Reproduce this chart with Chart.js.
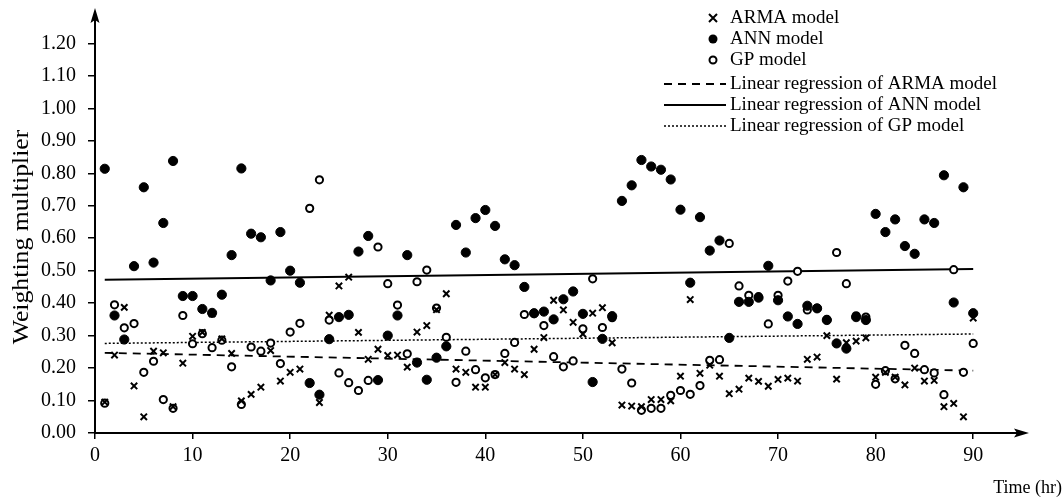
<!DOCTYPE html>
<html>
<head>
<meta charset="utf-8">
<script src="https://cdn.jsdelivr.net/npm/chart.js@4.4.1/dist/chart.umd.min.js"></script>
<style>
  html, body { margin: 0; padding: 0; background: #fff; }
  #wrap { width: 1064px; height: 501px; }
</style>
</head>
<body>
<div id="wrap"><canvas id="chart"></canvas></div>
<script>
// Weighting multiplier per hour for each model
const armaValues = [
  0.095, 0.240, 0.387, 0.145, 0.050, 0.252, 0.247, 0.081, 0.215, 0.298,
  0.310, 0.367, 0.290, 0.245, 0.099, 0.119, 0.141, 0.254, 0.160, 0.187,
  0.197, 0.155, 0.094, 0.363, 0.453, 0.480, 0.310, 0.227, 0.258, 0.239,
  0.240, 0.203, 0.311, 0.331, 0.380, 0.429, 0.197, 0.187, 0.141, 0.141,
  0.180, 0.217, 0.197, 0.180, 0.258, 0.294, 0.409, 0.379, 0.341, 0.305,
  0.369, 0.386, 0.278, 0.086, 0.083, 0.081, 0.103, 0.103, 0.099, 0.175,
  0.411, 0.184, 0.209, 0.175, 0.121, 0.135, 0.169, 0.159, 0.144, 0.165,
  0.169, 0.160, 0.227, 0.234, 0.300, 0.166, 0.278, 0.283, 0.293, 0.172,
  0.187, 0.172, 0.148, 0.200, 0.160, 0.162, 0.081, 0.091, 0.050, 0.354
];
const annValues = [
  0.814, 0.362, 0.288, 0.514, 0.757, 0.525, 0.647, 0.838, 0.422, 0.422,
  0.382, 0.370, 0.426, 0.548, 0.815, 0.614, 0.603, 0.470, 0.619, 0.500,
  0.463, 0.154, 0.118, 0.289, 0.357, 0.364, 0.559, 0.607, 0.163, 0.300,
  0.362, 0.548, 0.217, 0.164, 0.232, 0.267, 0.641, 0.556, 0.662, 0.687,
  0.638, 0.535, 0.517, 0.450, 0.369, 0.374, 0.350, 0.412, 0.436, 0.367,
  0.157, 0.290, 0.360, 0.715, 0.763, 0.841, 0.821, 0.811, 0.781, 0.688,
  0.463, 0.665, 0.562, 0.593, 0.293, 0.404, 0.404, 0.417, 0.515, 0.409,
  0.359, 0.336, 0.392, 0.384, 0.348, 0.276, 0.260, 0.357, 0.348, 0.675,
  0.619, 0.658, 0.576, 0.552, 0.658, 0.647, 0.794, 0.402, 0.757, 0.369
];
const gpValues = [
  0.092, 0.395, 0.324, 0.337, 0.187, 0.221, 0.103, 0.076, 0.362, 0.275,
  0.306, 0.263, 0.286, 0.204, 0.088, 0.265, 0.252, 0.277, 0.214, 0.311,
  0.338, 0.692, 0.780, 0.348, 0.185, 0.155, 0.131, 0.162, 0.573, 0.460,
  0.394, 0.244, 0.466, 0.502, 0.385, 0.295, 0.156, 0.252, 0.195, 0.170,
  0.180, 0.245, 0.279, 0.365, 0.368, 0.331, 0.235, 0.204, 0.222, 0.321,
  0.475, 0.325, 0.355, 0.197, 0.154, 0.070, 0.076, 0.076, 0.116, 0.131,
  0.119, 0.146, 0.224, 0.226, 0.584, 0.453, 0.424, 0.420, 0.336, 0.424,
  0.468, 0.498, 0.379, 0.384, 0.350, 0.556, 0.460, 0.361, 0.357, 0.150,
  0.192, 0.167, 0.270, 0.245, 0.195, 0.185, 0.118, 0.503, 0.187, 0.276
];

// Fitted trend lines: [value at first hour, value at last hour]
const trendHours = [1, 90];
const armaTrend = [0.247, 0.192];
const annTrend = [0.472, 0.505];
const gpTrend = [0.276, 0.305];

const xTicks = [0, 10, 20, 30, 40, 50, 60, 70, 80, 90];
const yTicks = [0, 0.1, 0.2, 0.3, 0.4, 0.5, 0.6, 0.7, 0.8, 0.9, 1.0, 1.1, 1.2];

const legendLabels = [
  'ARMA model', 'ANN model', 'GP model',
  'Linear regression of ARMA model', 'Linear regression of ANN model', 'Linear regression of GP model'
];

const FONT = '"Liberation Serif", "Times New Roman", serif';

const toPoints = vals => vals.map((v, i) => ({ x: i + 1, y: v }));
const trendPoints = vals => trendHours.map((h, i) => ({ x: h, y: vals[i] }));

// axis arrows, axis titles and the legend are drawn by hand
const decorations = {
    id: 'decorations',
    afterDraw(chart) {
        const { ctx } = chart;
        const xs = chart.scales.x, ys = chart.scales.y;
        const x0 = xs.getPixelForValue(0), y0 = ys.getPixelForValue(0);
        ctx.save();
        ctx.fillStyle = '#000';
        ctx.strokeStyle = '#000';
        ctx.lineWidth = 2;
        // axis lines past the chart area
        ctx.beginPath();
        ctx.moveTo(x0, y0); ctx.lineTo(1020, y0);
        ctx.moveTo(x0, y0); ctx.lineTo(x0, 16);
        ctx.stroke();
        // arrow heads
        ctx.beginPath();
        ctx.moveTo(1029, y0); ctx.lineTo(1014, y0 - 4.5); ctx.lineTo(1017, y0); ctx.lineTo(1014, y0 + 4.5);
        ctx.closePath(); ctx.fill();
        ctx.beginPath();
        ctx.moveTo(x0, 8); ctx.lineTo(x0 - 4.5, 23); ctx.lineTo(x0, 20); ctx.lineTo(x0 + 4.5, 23);
        ctx.closePath(); ctx.fill();

        // axis titles
        ctx.textBaseline = 'middle';
        ctx.font = '18px ' + FONT;
        ctx.textAlign = 'right';
        ctx.fillText('Time (hr)', 1062, 488);

        ctx.save();
        ctx.translate(22, 237);
        ctx.rotate(-Math.PI / 2);
        ctx.scale(1.12, 1);
        ctx.textAlign = 'center';
        ctx.font = '23px ' + FONT;
        ctx.fillText('Weighting multiplier', 0, 0);
        ctx.restore();

        // legend
        const rowY = [18, 39, 60, 84, 105, 126];
        const textX = 730, markX = 713;
        ctx.font = '19px ' + FONT;
        ctx.textAlign = 'left';
        legendLabels.forEach((label, i) => ctx.fillText(label, textX, rowY[i]));

        ctx.lineWidth = 2;
        ctx.beginPath();
        ctx.moveTo(markX - 4, rowY[0] - 4); ctx.lineTo(markX + 4, rowY[0] + 4);
        ctx.moveTo(markX + 4, rowY[0] - 4); ctx.lineTo(markX - 4, rowY[0] + 4);
        ctx.stroke();
        ctx.beginPath(); ctx.arc(markX, rowY[1], 4.5, 0, Math.PI * 2); ctx.fill();
        ctx.beginPath(); ctx.arc(markX, rowY[2], 3.5, 0, Math.PI * 2); ctx.stroke();

        const l0 = 664, l1 = 726;
        ctx.lineWidth = 1.8;
        ctx.setLineDash([8, 6]);
        ctx.beginPath(); ctx.moveTo(l0, rowY[3]); ctx.lineTo(l1, rowY[3]); ctx.stroke();
        ctx.setLineDash([]);
        ctx.lineWidth = 2;
        ctx.beginPath(); ctx.moveTo(l0, rowY[4]); ctx.lineTo(l1, rowY[4]); ctx.stroke();
        ctx.lineWidth = 1.5;
        ctx.setLineDash([2, 2]);
        ctx.beginPath(); ctx.moveTo(l0, rowY[5]); ctx.lineTo(l1, rowY[5]); ctx.stroke();
        ctx.restore();
    }
};

new Chart(document.getElementById('chart'), {
    type: 'scatter',
    data: {
        datasets: [
            {
                label: 'ARMA model', data: toPoints(armaValues), order: 1,
                pointStyle: 'crossRot', pointRadius: 4.5, borderColor: '#000', borderWidth: 2
            },
            {
                label: 'ANN model', data: toPoints(annValues), order: 2,
                pointStyle: 'circle', pointRadius: 4.6, backgroundColor: '#000', borderColor: '#000', borderWidth: 1
            },
            {
                label: 'GP model', data: toPoints(gpValues), order: 3,
                pointStyle: 'circle', pointRadius: 3.6, backgroundColor: '#fff', borderColor: '#000', borderWidth: 2
            },
            {
                type: 'line', label: 'Linear regression of ARMA model', data: trendPoints(armaTrend), order: 4,
                borderColor: '#000', borderWidth: 1.8, borderDash: [8, 6], pointRadius: 0, fill: false
            },
            {
                type: 'line', label: 'Linear regression of ANN model', data: trendPoints(annTrend), order: 4,
                borderColor: '#000', borderWidth: 2, pointRadius: 0, fill: false
            },
            {
                type: 'line', label: 'Linear regression of GP model', data: trendPoints(gpTrend), order: 4,
                borderColor: '#000', borderWidth: 1.5, borderDash: [2, 2], pointRadius: 0, fill: false
            }
        ]
    },
    options: {
        responsive: true,
        maintainAspectRatio: false,
        animation: false,
        layout: { padding: { top: 17, right: 42, left: 0, bottom: 0 } },
        plugins: { legend: { display: false }, tooltip: { enabled: false } },
        scales: {
            x: {
                type: 'linear', min: 0, max: 95,
                afterBuildTicks: s => { s.ticks = xTicks.map(v => ({ value: v })); },
                afterFit: s => { s.height = 68; },
                grid: { drawOnChartArea: false, drawTicks: true, tickLength: 6, color: '#000', lineWidth: 1.5 },
                border: { display: true, color: '#000', width: 2 },
                ticks: { color: '#000', padding: 5, font: { family: FONT, size: 20 } }
            },
            y: {
                type: 'linear', min: 0, max: 1.26,
                afterBuildTicks: s => { s.ticks = yTicks.map(v => ({ value: v })); },
                afterFit: s => { s.width = 95; },
                grid: { drawOnChartArea: false, drawTicks: true, tickLength: 7, color: '#000', lineWidth: 1.5 },
                border: { display: true, color: '#000', width: 2 },
                ticks: { color: '#000', padding: 12, font: { family: FONT, size: 20 }, callback: v => v.toFixed(2) }
            }
        }
    },
    plugins: [decorations]
});
</script>
</body>
</html>
